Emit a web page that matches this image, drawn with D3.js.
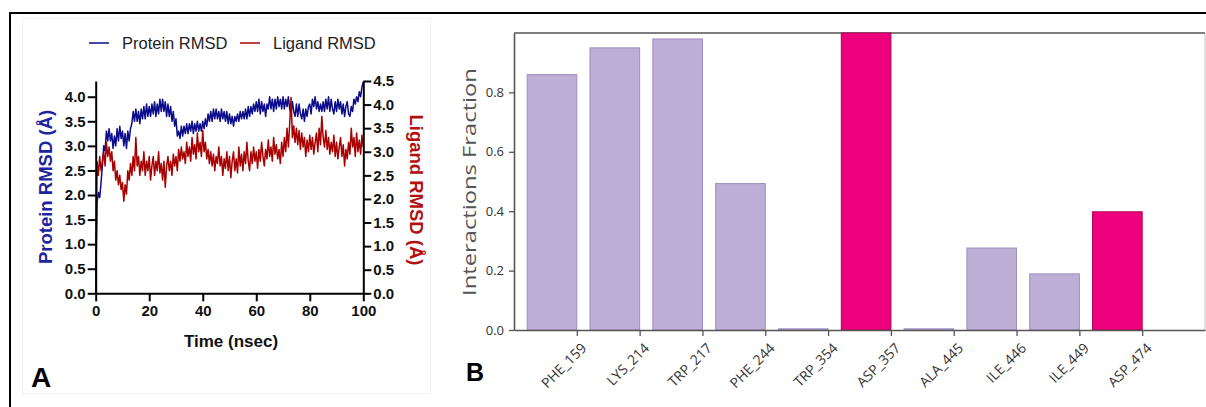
<!DOCTYPE html>
<html>
<head>
<meta charset="utf-8">
<script src="https://cdn.jsdelivr.net/npm/d3@7/dist/d3.min.js"></script>
<style>
  html, body { margin: 0; padding: 0; background: #fff; }
  svg { display: block; }
</style>
</head>
<body>
<svg id="fig" width="1206" height="407"></svg>
<script>
// ---------- Panel A: RMSD time series (0.5 ns per frame) ----------
const timeStep = 0.5;
const timeTicks = [0, 20, 40, 60, 80, 100];
const proteinTicks = [0, 0.5, 1.0, 1.5, 2.0, 2.5, 3.0, 3.5, 4.0];
const ligandTicks = [0, 0.5, 1.0, 1.5, 2.0, 2.5, 3.0, 3.5, 4.0, 4.5];

const proteinRMSD = [
  0, 1.85, 2.05, 1.95, 2.25, 2.6, 3.0, 2.9, 3.3, 3.1,
  3.35, 3.1, 3.25, 2.95, 3.2, 3.0, 3.35, 3.1, 3.4, 3.15,
  3.3, 3.0, 3.25, 2.95, 3.3, 3.1, 3.35, 3.45, 3.7, 3.5,
  3.75, 3.5, 3.7, 3.45, 3.75, 3.55, 3.8, 3.55, 3.85, 3.6,
  3.8, 3.6, 3.85, 3.65, 3.9, 3.6, 3.85, 3.65, 3.95, 3.7,
  3.95, 3.7, 3.9, 3.6, 3.85, 3.6, 3.8, 3.5, 3.7, 3.4,
  3.55, 3.2, 3.3, 3.15, 3.4, 3.2, 3.4, 3.25, 3.45, 3.25,
  3.45, 3.3, 3.5, 3.25, 3.45, 3.3, 3.5, 3.3, 3.45, 3.3,
  3.5, 3.35, 3.55, 3.4, 3.65, 3.5, 3.7, 3.5, 3.75, 3.55,
  3.75, 3.55, 3.7, 3.5, 3.75, 3.55, 3.7, 3.5, 3.7, 3.45,
  3.65, 3.45, 3.6, 3.4, 3.6, 3.5, 3.65, 3.5, 3.7, 3.55,
  3.7, 3.55, 3.75, 3.55, 3.8, 3.6, 3.8, 3.65, 3.85, 3.7,
  3.9, 3.7, 3.95, 3.65, 3.9, 3.7, 3.85, 3.6, 3.85, 3.75,
  4.0, 3.75, 3.95, 3.7, 3.95, 3.75, 4.0, 3.8, 3.95, 3.75,
  4.0, 3.75, 3.95, 3.8, 4.0, 3.75, 3.65, 3.9, 3.7, 3.6,
  3.85, 3.6, 3.85, 3.65, 3.55, 3.75, 3.5, 3.75, 3.6, 3.8,
  3.85, 3.65, 3.95, 3.8, 4.0, 3.75, 3.9, 3.7, 3.85, 3.7,
  3.9, 3.7, 3.95, 3.75, 4.0, 3.7, 3.95, 3.75, 3.65, 3.9,
  3.7, 3.95, 3.75, 3.9, 3.65, 3.85, 3.6, 3.8, 3.9, 3.65,
  3.6, 3.8, 3.7, 3.95, 3.85, 4.0, 3.9, 4.1, 4.0, 4.2,
  4.3
];

const ligandRMSD = [
  0, 2.8, 2.5, 2.9, 2.6, 2.8, 3.0, 2.7, 3.2, 2.9,
  3.1, 2.8, 3.0, 2.6, 2.8, 2.4, 2.6, 2.3, 2.5, 2.2,
  2.35, 1.95, 2.3, 2.1, 2.6, 2.4, 2.75, 2.5, 2.9, 2.6,
  3.3, 2.7, 2.9, 2.5, 2.8, 2.6, 3.0, 2.5, 2.8, 2.6,
  2.9, 2.4, 2.7, 2.9, 2.5, 2.8, 2.6, 3.0, 2.55, 2.75,
  2.4, 2.8, 2.25, 2.7, 2.9, 2.6, 2.8, 2.5, 2.95, 2.7,
  2.9, 2.6, 3.05, 2.8, 3.1, 2.85, 3.0, 2.75, 3.2, 2.9,
  3.1, 2.8, 3.3, 2.95, 3.15, 2.85, 3.4, 3.0, 3.2, 2.9,
  3.45, 3.0, 3.2, 2.85, 3.05, 2.75, 3.0, 2.7, 2.95, 2.6,
  2.9, 2.75, 3.1, 2.7, 2.9, 2.5, 2.85, 2.65, 3.0, 2.6,
  2.9, 2.45, 2.8, 3.0, 2.6, 2.85, 2.55, 3.1, 2.7, 2.95,
  2.6, 3.0, 2.75, 3.2, 2.8, 2.6, 3.0, 2.75, 3.1, 2.8,
  3.0, 2.65, 3.05, 2.8, 3.2, 2.9, 2.7, 3.05, 2.85, 3.25,
  2.9, 3.1, 2.8, 3.3, 2.95, 3.15, 2.85, 3.05, 2.75, 3.2,
  2.9, 3.3, 3.0, 3.5, 3.1, 3.6, 4.15, 3.3, 3.55, 3.2,
  3.5, 3.15, 3.45, 3.05, 3.4, 3.1, 3.3, 2.9, 3.25, 3.0,
  3.35, 3.05, 3.3, 2.95, 3.2, 3.4, 3.0, 3.5, 3.15, 3.75,
  3.3, 3.1, 3.45, 3.05, 3.3, 2.95, 3.2, 3.0, 3.35, 2.9,
  3.2, 2.85, 3.1, 3.3, 2.9, 3.15, 2.7, 3.05, 2.85, 3.2,
  2.95, 3.5, 3.1, 3.3, 2.9, 3.4, 3.0, 3.25, 2.95, 3.35,
  3.1
];

// ---------- Panel B: protein-ligand contact fractions ----------
const residues = ["PHE_159", "LYS_214", "TRP_217", "PHE_244", "TRP_354",
                  "ASP_357", "ALA_445", "ILE_446", "ILE_449", "ASP_474"];
const fractions = [0.86, 0.95, 0.98, 0.493, 0.004, 1.0, 0.004, 0.276, 0.189, 0.398];
const contactTypes = ["Hydrophobic", "Hydrophobic", "Hydrophobic", "Hydrophobic", "Hydrophobic",
                      "Ionic", "Hydrophobic", "Hydrophobic", "Hydrophobic", "Ionic"];
const fractionTicks = [0.0, 0.2, 0.4, 0.6, 0.8];

const svg = d3.select("#fig");
const ARIAL = "'Liberation Sans', Arial, sans-serif";
const OPEN = "'Open Sans', 'Noto Sans', sans-serif";

// outer figure frame (top and left rules)
svg.append("line").attr("x1", 10).attr("x2", 1206).attr("y1", 13).attr("y2", 13)
  .attr("stroke", "#000").attr("stroke-width", 2);
svg.append("line").attr("x1", 10).attr("x2", 10).attr("y1", 12).attr("y2", 407)
  .attr("stroke", "#000").attr("stroke-width", 2);

// faint panel A backdrop edge
svg.append("rect").attr("x", 22.5).attr("y", 18.5).attr("width", 408).attr("height", 375)
  .attr("fill", "none").attr("stroke", "#f2f2f2").attr("stroke-width", 1);

// ===== Panel A =====
const xT = d3.scaleLinear().domain([0, 100]).range([95.7, 363.3]);
const yP = d3.scaleLinear().domain([0, 4.32]).range([293.3, 81]);
const yL = d3.scaleLinear().domain([0, 4.5]).range([293.3, 81]);

const gA = svg.append("g");

const styleAxisA = g => {
  g.selectAll(".domain").attr("stroke", "#000").attr("stroke-width", 2);
  g.selectAll(".tick line").attr("stroke", "#000").attr("stroke-width", 2);
  g.selectAll(".tick text").attr("fill", "#111").attr("font-family", ARIAL)
    .attr("font-weight", "bold").attr("font-size", 15);
};

const protLine = d3.line().x((d, i) => xT(i * timeStep)).y(d => yP(d));
const ligLine = d3.line().x((d, i) => xT(i * timeStep)).y(d => yL(d));

gA.append("path").datum(proteinRMSD).attr("d", protLine)
  .attr("fill", "none").attr("stroke", "#0b0b8c").attr("stroke-width", 1.5)
  .attr("stroke-linejoin", "round");
gA.append("path").datum(ligandRMSD).attr("d", ligLine)
  .attr("fill", "none").attr("stroke", "#a80000").attr("stroke-width", 1.5)
  .attr("stroke-linejoin", "round");

gA.append("g").attr("transform", "translate(95.7,0)")
  .call(d3.axisLeft(yP).tickValues(proteinTicks).tickFormat(d3.format(".1f"))
    .tickSize(8).tickSizeOuter(0).tickPadding(2))
  .call(styleAxisA);
gA.append("g").attr("transform", "translate(363.3,0)")
  .call(d3.axisRight(yL).tickValues(ligandTicks).tickFormat(d3.format(".1f"))
    .tickSize(8).tickSizeOuter(0).tickPadding(2))
  .call(styleAxisA);
gA.append("g").attr("transform", "translate(0,293.3)")
  .call(d3.axisBottom(xT).tickValues(timeTicks).tickFormat(d3.format("d"))
    .tickSize(8).tickSizeOuter(0).tickPadding(4))
  .call(styleAxisA);

gA.append("text").attr("x", 231).attr("y", 347).attr("text-anchor", "middle")
  .attr("font-family", ARIAL).attr("font-weight", "bold").attr("font-size", 17)
  .attr("fill", "#111").text("Time (nsec)");

gA.append("text").attr("transform", "translate(52,187) rotate(-90)")
  .attr("text-anchor", "middle").attr("font-family", ARIAL).attr("font-weight", "bold")
  .attr("font-size", 18.5).attr("fill", "#1d24a0").text("Protein RMSD (Å)");
gA.append("text").attr("transform", "translate(410,190) rotate(90)")
  .attr("text-anchor", "middle").attr("font-family", ARIAL).attr("font-weight", "bold")
  .attr("font-size", 18.5).attr("fill", "#b31010").text("Ligand RMSD (Å)");

// legend
const legendItems = [
  { label: "Protein RMSD", color: "#0b0b8c", x: 89 },
  { label: "Ligand RMSD", color: "#a80000", x: 240 }
];
legendItems.forEach(it => {
  gA.append("line").attr("x1", it.x).attr("x2", it.x + 20).attr("y1", 43).attr("y2", 43)
    .attr("stroke", it.color).attr("stroke-width", 1.5);
  gA.append("text").attr("x", it.x + 33).attr("y", 49).attr("font-family", ARIAL)
    .attr("font-size", 16.5).attr("fill", "#222").text(it.label);
});

gA.append("text").attr("x", 31).attr("y", 387).attr("font-family", ARIAL)
  .attr("font-weight", "bold").attr("font-size", 28).attr("fill", "#000").text("A");

// ===== Panel B =====
const xB = d3.scaleLinear().domain([-1, 10]).range([514, 1205]);
const yB = d3.scaleLinear().domain([0, 1.0]).range([330, 33]);
const barWidth = 0.79;
const typeFill = { Hydrophobic: "#bcaed4", Ionic: "#ec007c" };
const typeStroke = { Hydrophobic: "#9d8ec0", Ionic: "#b0004e" };

const gB = svg.append("g");

// frame of the plotting area
gB.append("line").attr("x1", 1205).attr("x2", 1205).attr("y1", 33).attr("y2", 330)
  .attr("stroke", "#cfcfcf").attr("stroke-width", 1.2);
gB.append("line").attr("x1", 514).attr("x2", 1205).attr("y1", 33).attr("y2", 33)
  .attr("stroke", "#555").attr("stroke-width", 1.6);

gB.selectAll("rect.bar").data(residues).join("rect").attr("class", "bar")
  .attr("x", (d, i) => xB(i - barWidth))
  .attr("width", (d, i) => xB(i) - xB(i - barWidth))
  .attr("y", (d, i) => yB(fractions[i]))
  .attr("height", (d, i) => yB(0) - yB(fractions[i]))
  .attr("fill", (d, i) => typeFill[contactTypes[i]])
  .attr("stroke", (d, i) => typeStroke[contactTypes[i]])
  .attr("stroke-width", 1);

const yAxisB = gB.append("g").attr("transform", "translate(514,0)")
  .call(d3.axisLeft(yB).tickValues(fractionTicks).tickFormat(d3.format(".1f"))
    .tickSize(5).tickSizeOuter(0).tickPadding(5));
const xAxisB = gB.append("g").attr("transform", "translate(0,330)")
  .call(d3.axisBottom(xB).tickValues(d3.range(residues.length))
    .tickFormat(i => residues[i]).tickSize(6).tickSizeOuter(0).tickPadding(4));

[yAxisB, xAxisB].forEach(g => {
  g.selectAll(".domain").attr("stroke", "#555").attr("stroke-width", 1.6);
  g.selectAll(".tick line").attr("stroke", "#555").attr("stroke-width", 1.3);
  g.selectAll(".tick text").attr("fill", "#333").attr("font-family", OPEN).attr("font-size", 13);
});
xAxisB.selectAll(".tick text")
  .attr("text-anchor", "end").attr("dy", null).attr("y", null)
  .attr("transform", "translate(10,19) rotate(-45)")
  .attr("font-size", 14);

// y-axis title, stretched along its length
gB.append("text").attr("transform", "translate(476,182) rotate(-90) scale(1.25,1)")
  .attr("text-anchor", "middle").attr("font-family", OPEN).attr("font-size", 19)
  .attr("fill", "#555").text("Interactions Fraction");

gB.append("text").attr("x", 466).attr("y", 381).attr("font-family", ARIAL)
  .attr("font-weight", "bold").attr("font-size", 25).attr("fill", "#000").text("B");
</script>
</body>
</html>
